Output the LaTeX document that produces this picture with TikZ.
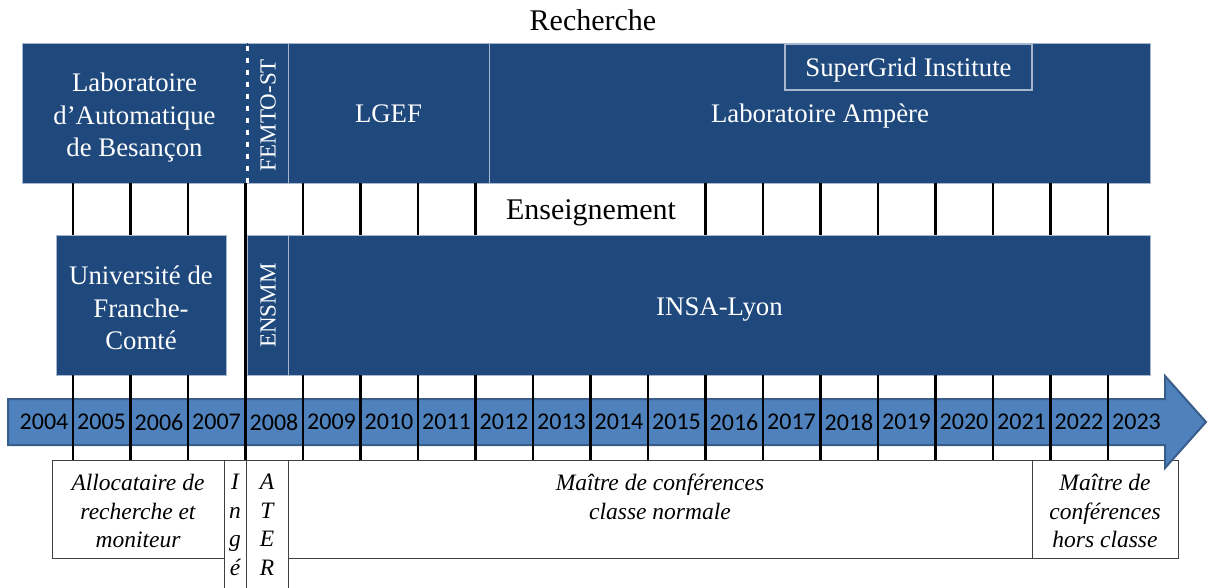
\documentclass[tikz,border=0pt]{standalone}
\usepackage{fontspec}
\setmainfont{Liberation Serif}
\newfontfamily\yearfont{Carlito}
\definecolor{labblue}{HTML}{1F497D}
\definecolor{edgeblue}{HTML}{A7B7CE}
\definecolor{arrowblue}{HTML}{4F81BD}
\definecolor{arrowedge}{HTML}{385D8A}
\definecolor{boxgray}{HTML}{404040}
\tikzset{
  org/.style={fill=labblue, draw=edgeblue, line width=0.8pt, text=white, align=center, inner sep=0pt,
    font=\fontsize{26.8}{32.5}\selectfont},
  orglbl/.style={text=white, align=center, inner sep=0pt, font=\fontsize{26.8}{32.5}\selectfont},
  rotlbl/.style={rotate=90, text=white, inner sep=0pt, font=\fontsize{23}{27}\selectfont},
  post/.style={fill=white, draw=boxgray, line width=0.8pt, inner sep=0pt},
  postlbl/.style={align=center, inner sep=0pt, anchor=north, font=\fontsize{23.5}{28.5}\selectfont\itshape},
  yeartick/.style={line width=2.8pt, black},
  yearlbl/.style={font=\yearfont\fontsize{24}{24}\selectfont, inner sep=0pt},
  heading/.style={font=\fontsize{30}{34}\selectfont, inner sep=0pt},
}
\begin{document}
\begin{tikzpicture}[x=1pt,y=-1pt]
\useasboundingbox (0,0) rectangle (1208,587);
\clip (0,0) rectangle (1208,587);

% headings
\node[heading] (rech) at (593,20) {Recherche};

% research row (y 43--183)
\node[org, minimum width=225, minimum height=140] (lab) at (134.5,113) {};
\node[orglbl] (lablbl) at (134.5,118) {Laboratoire\\d’Automatique\\de Besançon};
\node[org, minimum width=41, minimum height=140] (femto) at (267.5,113) {};
\node[rotlbl] (femtolbl) at (268,115) {FEMTO-ST};
\node[org, minimum width=201, minimum height=140] (lgef) at (388.5,113) {};
\node[orglbl] (lgeflbl) at (388.5,114) {LGEF};
\node[org, minimum width=661, minimum height=140] (ampere) at (819.5,113) {};
\node[orglbl] (amplbl) at (820,116) {Laboratoire Ampère};
\node[org, line width=1.2pt, minimum width=247, minimum height=46] (sgi) at (908.5,67) {};
\node[orglbl] (sgilbl) at (908.5,70) {SuperGrid Institute};
\draw[labblue, line width=1.4pt] (lab.north east) -- (lab.south east);
\draw[white, line width=2.2pt, dash pattern=on 5pt off 7pt, dash phase=-3pt] (lab.north east) -- (lab.south east);

% teaching row (y 235--375)
\node[org, minimum width=170, minimum height=140] (ufc) at (141,305) {};
\node[orglbl] (ufclbl) at (141,308) {Université de\\Franche-\\Comté};
\node[org, minimum width=41, minimum height=140] (ensmm) at (267.5,305) {};
\node[rotlbl] (ensmmlbl) at (268,305.5) {ENSMM};
\node[org, minimum width=862, minimum height=140] (insa) at (719,305) {};
\node[orglbl] (insalbl) at (719.5,310) {INSA-Lyon};

% position row (y 460--558)
\node[post, minimum width=172, minimum height=98] (alloc) at (138,509) {};
\node[post, minimum width=22, minimum height=140] (inge) at (235,530) {};
\node[post, minimum width=42, minimum height=140] (ater) at (267,530) {};
\node[post, minimum width=744, minimum height=98] (mcf) at (660,509) {};
\node[post, minimum width=146, minimum height=98] (mcfhc) at (1105,509) {};
\node[postlbl] (alloclbl) at (138,474) {Allocataire de\\recherche et\\moniteur};
\node[postlbl] (ingelbl) at (235,474) {I\\n\\g\\é};
\node[postlbl] (aterlbl) at (267,474) {A\\T\\E\\R};
\node[postlbl] (mcflbl) at (660,474) {Maître de conférences\\classe normale};
\node[postlbl] (mcfhclbl) at (1105,474) {Maître de\\conférences\\hors classe};

% timeline arrow
\draw[fill=arrowblue, draw=arrowedge, line width=2pt, line join=miter]
  (8,399) -- (1165,399) -- (1165,376) -- (1206,422) -- (1165,468) -- (1165,445) -- (8,445) -- cycle;

% ticks
\foreach \k in {1,...,19}{
  \pgfmathsetmacro{\tx}{73+57.5*(\k-1)}
  \coordinate (ta\k) at (\tx,183);
  \coordinate (tb\k) at (\tx,235);
  \coordinate (tc\k) at (\tx,375);
  \coordinate (td\k) at (\tx,460);
  \draw[yeartick] (tc\k) -- (td\k);
}
\foreach \k in {1,...,8,12,13,...,19}{
  \draw[yeartick] (ta\k) -- (tb\k);
}
\draw[yeartick] (tb4) -- (tc4);

% years
\foreach \k in {0,...,19}{
  \pgfmathtruncatemacro{\yr}{2004+\k}
  \node[yearlbl] (y\yr) at (44+57.5*\k,422) {\yr};
}

\node[heading] (ens) at (591,213) {Enseignement};
\end{tikzpicture}
\end{document}
